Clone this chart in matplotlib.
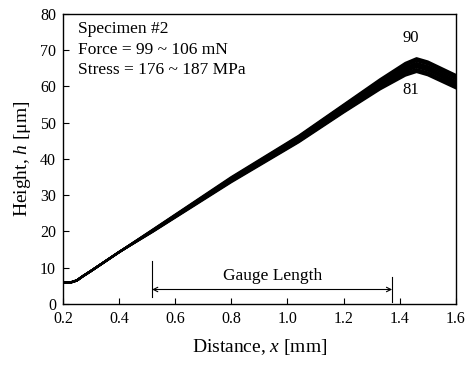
import matplotlib
matplotlib.use("Agg")
import matplotlib.pyplot as plt

plt.rcParams['font.family'] = ['Liberation Serif', 'DejaVu Serif']
plt.rcParams['mathtext.fontset'] = 'custom'
plt.rcParams['mathtext.rm'] = 'Liberation Serif'
plt.rcParams['mathtext.it'] = 'Liberation Serif:italic'

# Common start of all profiles (flat base then rising flank)
x_start = [0.20, 0.23, 0.25, 0.27, 0.30, 0.40]
h_start = [6.0, 6.0, 6.5, 7.6, 9.1, 14.3]

# Per-scan tail of the profiles (scans 81 ... 90)
x_tail = [0.52, 0.80, 1.04, 1.20, 1.33, 1.42, 1.46, 1.50, 1.60]
h81 = [19.9, 33.6, 44.6, 52.8, 59.2, 63.0, 64.0, 63.1, 59.5]
h82 = [20.0, 33.8, 44.8, 53.0, 59.5, 63.4, 64.4, 63.5, 59.9]
h83 = [20.0, 33.9, 45.0, 53.3, 59.8, 63.8, 64.8, 63.9, 60.3]
h84 = [20.1, 34.1, 45.2, 53.5, 60.1, 64.2, 65.3, 64.4, 60.7]
h85 = [20.2, 34.2, 45.4, 53.8, 60.5, 64.5, 65.7, 64.8, 61.1]
h86 = [20.2, 34.4, 45.6, 54.0, 60.8, 64.9, 66.1, 65.2, 61.5]
h87 = [20.3, 34.5, 45.8, 54.3, 61.1, 65.3, 66.5, 65.6, 62.0]
h88 = [20.4, 34.7, 46.0, 54.5, 61.4, 65.7, 67.0, 66.1, 62.4]
h89 = [20.4, 34.8, 46.2, 54.8, 61.7, 66.1, 67.4, 66.5, 62.8]
h90 = [20.5, 35.0, 46.4, 55.0, 62.0, 66.5, 67.8, 66.9, 63.2]
tails = [h81, h82, h83, h84, h85, h86, h87, h88, h89, h90]

xticks = [0.2, 0.4, 0.6, 0.8, 1.0, 1.2, 1.4, 1.6]
xticklabels = ["0.2", "0.4", "0.6", "0.8", "1.0", "1.2", "1.4", "1.6"]
yticks = [0, 10, 20, 30, 40, 50, 60, 70, 80]

gauge_start = 0.518
gauge_end = 1.373

fig = plt.figure(figsize=(4.69, 3.71), dpi=100)
ax = fig.add_axes([0.134, 0.1806, 0.838, 0.7817])

for t in tails:
    ax.plot(x_start + x_tail, h_start + t, color='black', lw=1.6,
            solid_joinstyle='round')

ax.set_xlim(0.2, 1.6)
ax.set_ylim(0, 80)
ax.set_xticks(xticks)
ax.set_xticklabels(xticklabels)
ax.set_yticks(yticks)
ax.tick_params(direction='in', length=4, width=0.8, labelsize=11.5,
               pad=5, colors='black')
for s in ax.spines.values():
    s.set_linewidth(1.0)

ax.set_xlabel('Distance, $x$ [mm]', fontsize=14, labelpad=7)
ax.set_ylabel('Height, $h$ [μm]', fontsize=14, labelpad=5)

ax.text(0.253, 75.9, 'Specimen #2', fontsize=12.5, va='center', ha='left')
ax.text(0.253, 70.1, 'Force = 99 ~ 106 mN', fontsize=12.5, va='center', ha='left')
ax.text(0.253, 64.6, 'Stress = 176 ~ 187 MPa', fontsize=12.5, va='center', ha='left')

ax.text(1.44, 73.4, '90', fontsize=12, ha='center', va='center')
ax.text(1.44, 59.0, '81', fontsize=12, ha='center', va='center')

# Gauge length marker
ax.plot([gauge_start, gauge_start], [2.0, 11.9], color='black', lw=0.8)
ax.plot([gauge_end, gauge_end], [0.5, 7.5], color='black', lw=0.8)
ax.annotate('', xy=(gauge_start, 4.0), xytext=(gauge_end, 4.0),
            arrowprops=dict(arrowstyle='<->', color='black', lw=0.8,
                            shrinkA=0, shrinkB=0, mutation_scale=8))
ax.text((gauge_start + gauge_end) / 2, 7.6, 'Gauge Length', fontsize=12.5,
        ha='center', va='center')

fig.savefig('out.png', dpi=100)
